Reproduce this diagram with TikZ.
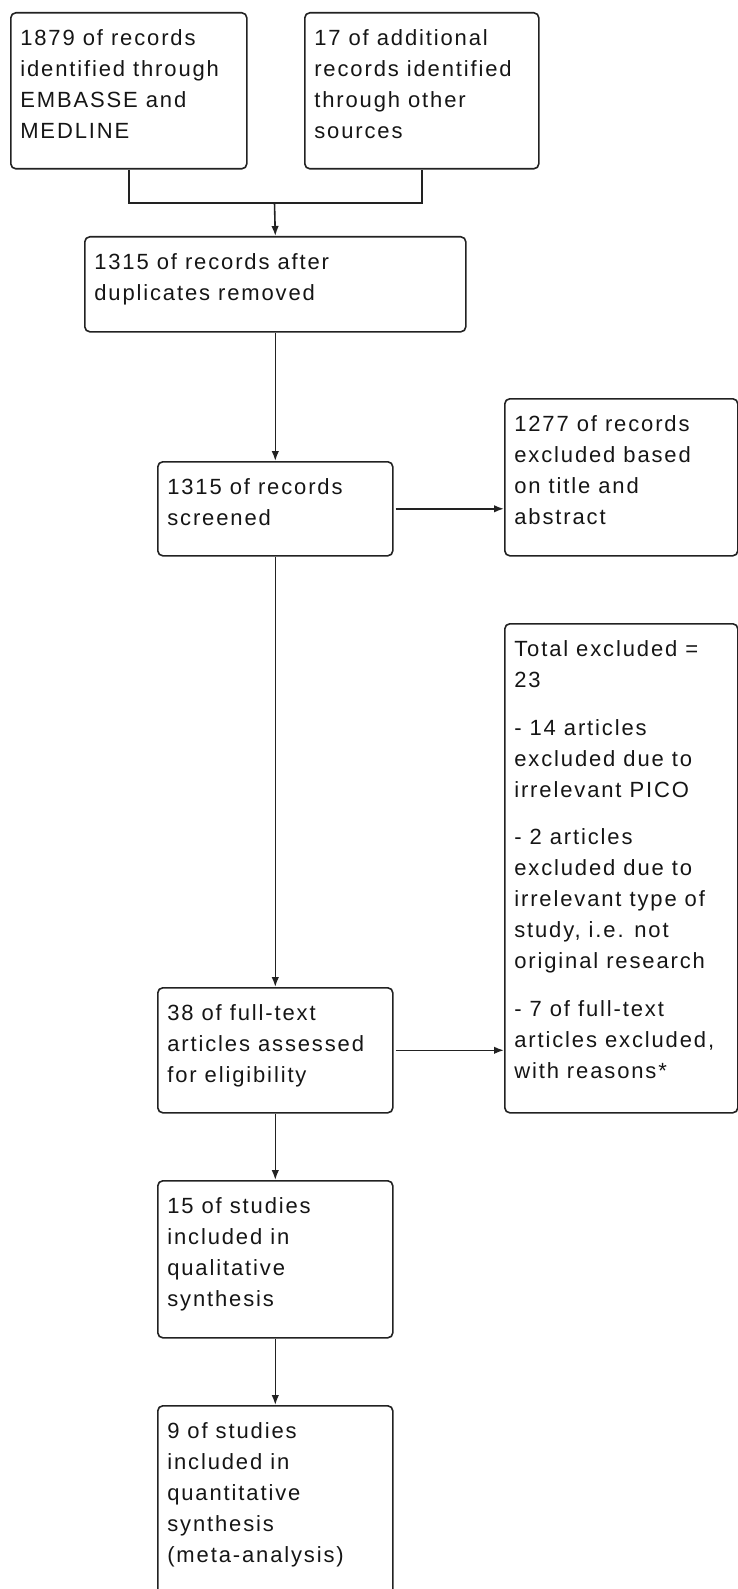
\documentclass[tikz,border=0pt]{standalone}
\usepackage{fontspec}
\setmainfont{Liberation Sans}[LetterSpace=8.5]
\usetikzlibrary{arrows.meta}
\definecolor{ink}{HTML}{151515}
\definecolor{edge}{HTML}{222222}
\newcommand\boxtxt[3]{\parbox[t][#2pt][t]{#1pt}{\raggedright\leftskip=9.5pt\rule{0pt}{32.5pt}#3}}
\newcommand\pgap{\par\vspace{16.7pt}}
\begin{document}
\begin{tikzpicture}[x=1pt,y=-1pt,
  font=\fontsize{22pt}{31pt}\selectfont,
  flowbox/.style={draw=edge, line width=1.6pt, rounded corners=5pt, inner sep=0pt, anchor=north west, text=ink},
  conn/.style={draw=edge, line width=1.6pt},
  arr/.style={conn, -{Latex[length=10pt,width=7.5pt]}}]
\useasboundingbox (0,0) rectangle (738,1589);
\clip (0,0) rectangle (738,1589);
\node[flowbox] (A) at (10,12) {\boxtxt{236}{156}{1879 of records\\identified through\\EMBASSE and\\MEDLINE}};
\node[flowbox] (B) at (304,12) {\boxtxt{234}{156}{17 of additional\\records identified\\through other\\sources}};
\node[flowbox] (C) at (84,236) {\boxtxt{381}{95}{1315 of records after\\duplicates removed}};
\node[flowbox] (D) at (157,461) {\boxtxt{235}{94}{1315 of records\\screened}};
\node[flowbox] (E) at (504,398) {\boxtxt{233}{157}{1277 of records\\excluded based\\on title and\\abstract}};
\node[flowbox] (F) at (157,987) {\boxtxt{235}{125}{38 of full-text\\articles assessed\\for eligibility}};
\node[flowbox] (G) at (504,623) {\boxtxt{233}{489}{Total excluded =\\23\pgap
- 14 articles\\excluded due to\\irrelevant PICO\pgap
- 2 articles\\excluded due to\\irrelevant type of\\study, i.e. not\\original research\pgap
- 7 of full-text\\articles excluded,\\with reasons*}};
\node[flowbox] (H) at (157,1180) {\boxtxt{235}{157}{15 of studies\\included in\\qualitative\\synthesis}};
\node[flowbox] (I) at (157,1405) {\boxtxt{235}{220}{9 of studies\\included in\\quantitative\\synthesis\\(meta-analysis)}};
\coordinate (j) at (274.5,203);
\draw[conn] (A.south) |- (j) -| (B.south);
\draw[arr] (j) -- (C.north);
\draw[arr] (C.south) -- (D.north);
\draw[arr, shorten <=2pt] (D.east) -- (D.east -| E.west);
\draw[arr] (D.south) -- (F.north);
\draw[arr, shorten <=2pt] (F.east) -- (F.east -| G.west);
\draw[arr] (F.south) -- (H.north);
\draw[arr] (H.south) -- (I.north);
\end{tikzpicture}
\end{document}
